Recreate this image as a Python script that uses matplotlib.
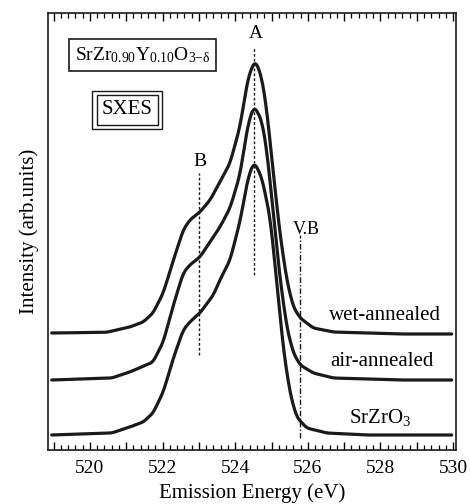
import numpy as np
import matplotlib
matplotlib.use("Agg")
import matplotlib.pyplot as plt
from matplotlib.ticker import MultipleLocator, FuncFormatter

plt.rcParams['font.family'] = ['Liberation Serif', 'DejaVu Serif']
plt.rcParams['mathtext.fontset'] = 'custom'
plt.rcParams['mathtext.rm'] = 'Liberation Serif'
plt.rcParams['mathtext.it'] = 'Liberation Serif:italic'

# Emission energy (eV) and intensity (arb. units, vertically offset traces)
wet_x = [518.95, 520.46, 521.1, 521.47, 521.74, 522.02, 522.3, 522.57, 522.75, 523.03, 523.31,
         523.58, 523.86, 524.13, 524.36, 524.55, 524.73, 524.87, 525.05, 525.23, 525.42, 525.6,
         525.79, 526.15, 526.7, 527.62, 528.54, 529.96]
wet_y = [117, 117.7, 123, 128, 137, 157, 190, 220, 230, 238, 250,
         268, 287, 323, 373, 390, 373, 340, 277, 217, 170, 143,
         132, 122, 118, 117, 116, 116]

air_x = [518.95, 520.6, 521.1, 521.74, 522.02, 522.3, 522.57, 522.75, 523.03, 523.4,
         523.58, 523.86, 524.13, 524.36, 524.52, 524.73, 524.87, 525.05, 525.23, 525.42, 525.6,
         525.79, 526.15, 526.7, 528.54, 529.96]
air_y = [70, 72, 78, 88, 108, 145, 177, 185, 193, 213,
         223, 242, 275, 327, 344, 330, 300, 237, 173, 123, 97,
         85, 77, 72, 70, 70]

srz_x = [518.95, 520.6, 521.1, 521.47, 521.74, 522.02, 522.3, 522.57, 522.75, 523.03, 523.4,
         523.58, 523.86, 524.13, 524.36, 524.52, 524.73, 524.96, 525.14, 525.33, 525.51, 525.69,
         525.97, 526.52, 527.62, 529.96]
srz_y = [15, 17, 23, 28, 37, 58, 92, 120, 128, 137, 155,
         170, 190, 228, 273, 288, 273, 233, 170, 100, 57, 33,
         22, 17, 15, 15]

series_labels = ['wet-annealed', 'air-annealed', r'SrZrO$_{3}$']

# marker lines: (energy, y-from, y-to)
line_A = (524.52, 175, 403)
line_B = (523.0, 95, 277)
line_VB = (525.79, 12, 215)

fig = plt.figure(figsize=(4.7, 5.04), dpi=100)
ax = fig.add_axes([47.7/470, 1 - 450/504, (455.7-47.7)/470, (450-13.3)/504])

for xs, ys in [(wet_x, wet_y), (air_x, air_y), (srz_x, srz_y)]:
    xs_f = np.linspace(xs[0], xs[-1], 600)
    ys_f = np.interp(xs_f, xs, ys)
    k = np.ones(9) / 9
    pad = np.pad(ys_f, 4, mode='edge')
    ys_s = np.convolve(pad, k, mode='valid')
    ax.plot(xs_f, ys_s, color='#1a1a1a', lw=2.3, solid_capstyle='round')

ax.plot([line_A[0]]*2, line_A[1:], color='#1a1a1a', lw=1.0, ls=(0, (2, 1.5)))
ax.plot([line_B[0]]*2, line_B[1:], color='#1a1a1a', lw=1.0, ls=(0, (2, 1.5)))
ax.plot([line_VB[0]]*2, line_VB[1:], color='#1a1a1a', lw=1.0, ls=(0, (4, 1.5, 1, 1.5)))

ax.text(524.57, 417, 'A', ha='center', va='center', fontsize=14)
ax.text(523.03, 288, 'B', ha='center', va='center', fontsize=14)
ax.text(525.95, 221, 'V.B', ha='center', va='center', fontsize=13)

ax.text(528.12, 134, series_labels[0], ha='center', va='center', fontsize=15)
ax.text(528.03, 88, series_labels[1], ha='center', va='center', fontsize=15)
ax.text(527.98, 33, series_labels[2], ha='center', va='center', fontsize=15)

ax.text(521.45, 395, r'SrZr$_{0.90}$Y$_{0.10}$O$_{3\mathrm{-δ}}$', ha='center', va='center',
        fontsize=14, bbox=dict(boxstyle='square,pad=0.3', fc='white', ec='#1a1a1a', lw=1.2))
ax.text(521.03, 340, 'SXES', ha='center', va='center', fontsize=15,
        bbox=dict(boxstyle='square,pad=0.25', fc='white', ec='#1a1a1a', lw=1.0))
ax.text(521.03, 340, 'SXES', ha='center', va='center', fontsize=15, color='none',
        bbox=dict(boxstyle='square,pad=0.45', fc='none', ec='#1a1a1a', lw=1.0))

ax.set_xlim(518.84, 530.07)
ax.set_ylim(0, 436.7)
ax.xaxis.set_major_locator(MultipleLocator(1))
ax.xaxis.set_minor_locator(MultipleLocator(0.2))
ax.xaxis.set_major_formatter(FuncFormatter(lambda v, p: f'{int(round(v))}' if int(round(v)) % 2 == 0 else ''))
ax.tick_params(axis='x', which='major', direction='in', top=True, length=6, width=1, labelsize=14, pad=7)
ax.tick_params(axis='x', which='minor', direction='in', top=True, length=3.5, width=0.9)
ax.set_yticks([])
for s in ax.spines.values():
    s.set_linewidth(1.2)
    s.set_color('#1a1a1a')

ax.set_xlabel('Emission Energy (eV)', fontsize=15, labelpad=5)
ax.set_ylabel('Intensity (arb.units)', fontsize=15, labelpad=6)

fig.savefig('out.png', dpi=100)
